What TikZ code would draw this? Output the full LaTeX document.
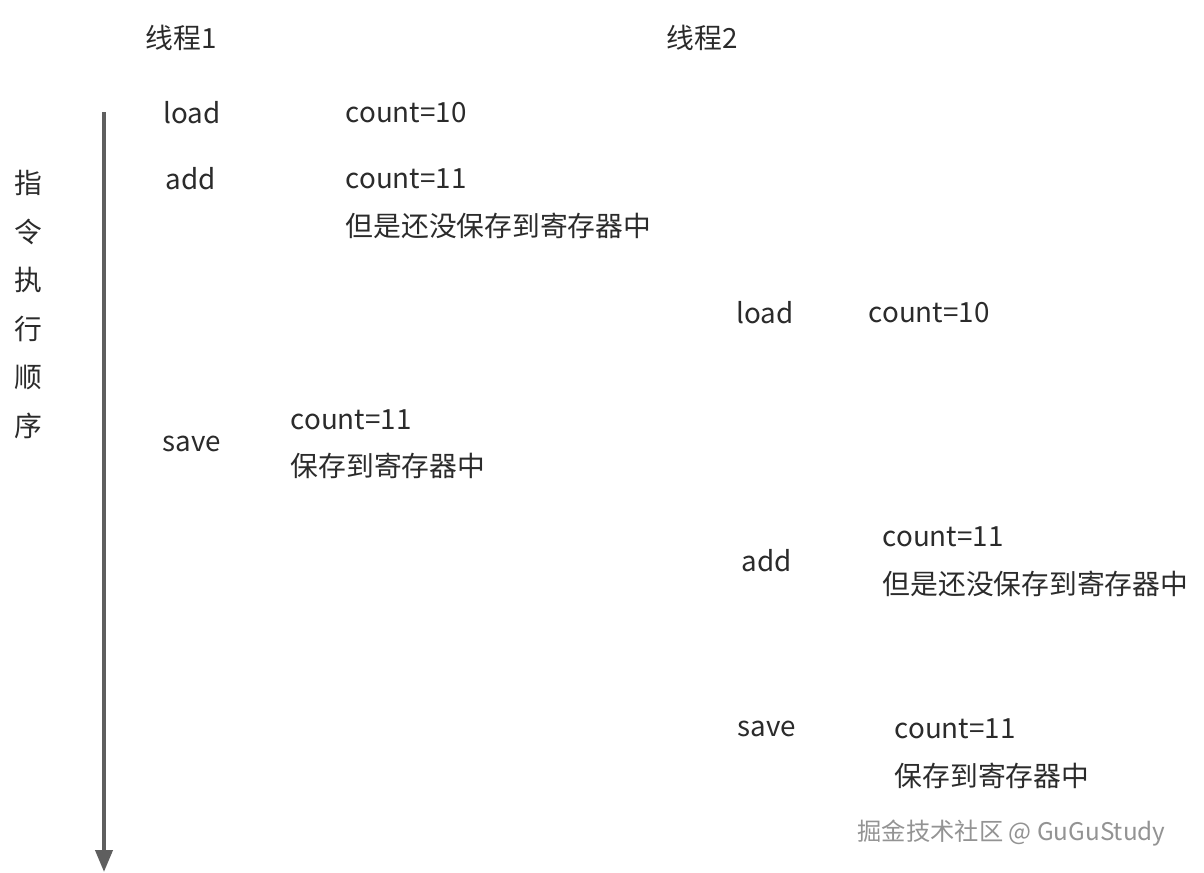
\documentclass[tikz,border=0pt]{standalone}
\usepackage{fontspec}
\newfontfamily\cjk{Noto Sans CJK SC}
\usetikzlibrary{arrows.meta}
\definecolor{txtgray}{HTML}{2B2B2B}
\definecolor{arrgray}{HTML}{5F5F5F}
\begin{document}
\begin{tikzpicture}[x=0.01cm, y=-0.01cm, font=\cjk\fontsize{7.9}{9}\selectfont,
    every node/.style={inner sep=0pt, text=txtgray},
    op/.style={anchor=center},
    val/.style={anchor=west},
    mark text/.style={anchor=west, font=\cjk\fontsize{6.9}{8}\selectfont}]
  \useasboundingbox (0,0) rectangle (1204,872);
  % thread titles
  \node[op] (t1) at (181,38) {线程1};
  \node[op] (t2) at (702,38) {线程2};
  % time axis
  \coordinate (axtop) at (104,112);
  \coordinate (axbot) at (104,872);
  \draw[arrgray, line width=0.04cm, -{Triangle[length=0.22cm, width=0.17cm]}] (axtop) -- (axbot);
  \foreach \c [count=\i] in {指,令,执,行,顺,序}
    {\node[op] (ord\i) at (28,134.5+48.5*\i) {\c};}
  % thread 1
  \node[op] (load1) at (192,113) {load};
  \node[val] (v1a) at (345,113) {count=10};
  \node[op] (add1) at (191,179) {add};
  \node[val] (v1b) at (345,179) {count=11};
  \node[val] (n1b) at (345,226) {但是还没保存到寄存器中};
  \node[op] (save1) at (192,444) {save};
  \node[val] (v1c) at (290,420) {count=11};
  \node[val] (n1c) at (290,466) {保存到寄存器中};
  % thread 2
  \node[op] (load2) at (765,313) {load};
  \node[val] (v2a) at (868,313) {count=10};
  \node[op] (add2) at (767,561) {add};
  \node[val] (v2b) at (882,537) {count=11};
  \node[val] (n2b) at (882,584) {但是还没保存到寄存器中};
  \node[op] (save2) at (767,729) {save};
  \node[val] (v2c) at (894,729) {count=11};
  \node[val] (n2c) at (894,776) {保存到寄存器中};
  % watermark
  \node[mark text, text=white] (wms) at (858,835) {掘金技术社区 @ GuGuStudy};
  \node[mark text, text=gray!85] (wm) at (857,833) {掘金技术社区 @ GuGuStudy};
\end{tikzpicture}
\end{document}
